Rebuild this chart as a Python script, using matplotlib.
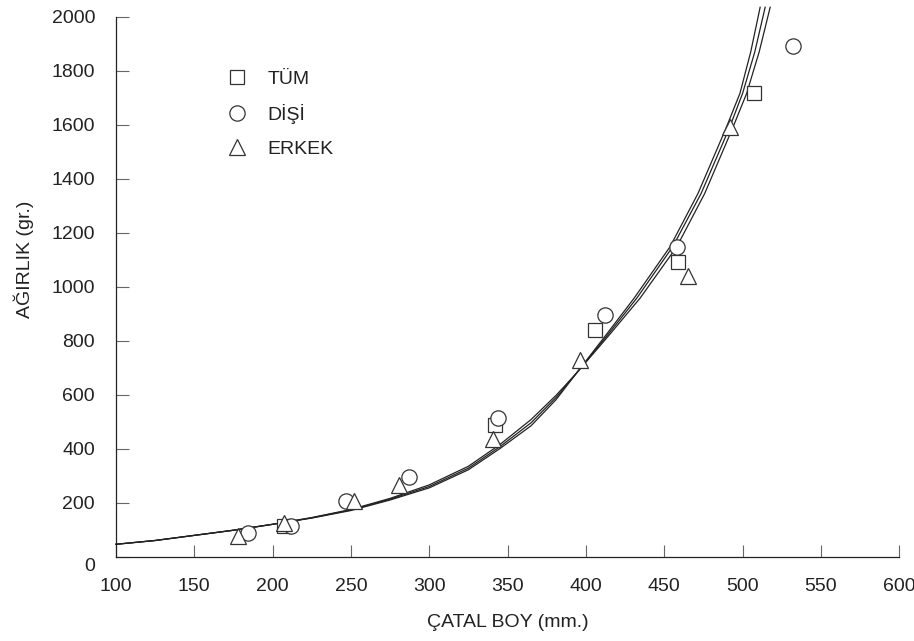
import matplotlib
matplotlib.use("Agg")
import matplotlib.pyplot as plt
from matplotlib.transforms import ScaledTranslation

plt.rcParams['font.family'] = ['Liberation Sans', 'DejaVu Sans']

# observed means (length mm, weight g)
tum_x = [207, 342, 406, 459, 507]
tum_y = [113, 488, 840, 1093, 1716]
disi_x = [184.5, 212, 247, 287, 344, 412, 458, 532]
disi_y = [86, 113, 205, 294, 512, 895, 1148, 1893]
erkek_x = [178, 207, 252, 281, 341, 396, 465, 492]
erkek_y = [76, 124, 205, 266, 436, 729, 1040, 1590]

# fitted curves
fit_a_x = [100, 125, 150, 175, 200, 225, 250, 275, 300, 325, 345, 365, 381, 394, 412, 430.7, 453.7, 471.5, 489.4, 498.3, 505.2, 511.2]
fit_a_y = [46, 60, 79, 98, 120, 145, 175, 216, 266, 335, 415, 508, 598, 680, 815, 957, 1148, 1345, 1587, 1716, 1870, 2035]
fit_b_x = [100, 125, 150, 175, 200, 225, 250, 275, 300, 325, 345, 365, 381, 394, 413, 432.4, 455.4, 473.5, 491.5, 500.0, 507.8, 514.4]
fit_b_y = [46, 60, 79, 98, 120, 144, 173, 213, 260, 328, 407, 496, 590, 680, 815, 957, 1148, 1345, 1587, 1716, 1870, 2035]
fit_c_x = [100, 125, 150, 175, 200, 225, 250, 275, 300, 325, 345, 365, 381, 394, 414, 434.5, 458.0, 475.8, 493.6, 502.6, 510.6, 517.6]
fit_c_y = [46, 60, 79, 98, 120, 143, 171, 210, 255, 322, 400, 485, 582, 680, 815, 957, 1148, 1345, 1587, 1716, 1870, 2035]

x_ticks = [100, 150, 200, 250, 300, 350, 400, 450, 500, 550, 600]
y_ticks = [0, 200, 400, 600, 800, 1000, 1200, 1400, 1600, 1800, 2000]

fig = plt.figure(figsize=(9.14, 6.41), dpi=100)
ax = fig.add_axes([0.1268, 0.1315, 0.8571, 0.8425])

for fx, fy in [(fit_a_x, fit_a_y), (fit_b_x, fit_b_y), (fit_c_x, fit_c_y)]:
    ax.plot(fx, fy, color="#222222", linewidth=0.9, clip_on=False, zorder=2)

mk = dict(linestyle="none", markerfacecolor="white", markeredgecolor="#333333",
          markeredgewidth=0.9, zorder=3)
ax.plot(tum_x, tum_y, marker="s", markersize=9.5, label="TÜM", **mk)
ax.plot(disi_x, disi_y, marker="o", markersize=11, label="DİŞİ", **mk)
ax.plot(erkek_x, erkek_y, marker="^", markersize=11, label="ERKEK", **mk)

ax.set_xlim(100, 600)
ax.set_ylim(0, 2000)
ax.set_xticks(x_ticks)
ax.set_yticks(y_ticks)
ax.tick_params(direction="in", length=9, width=0.8, color="#666666",
               labelsize=14, labelcolor="#222222", pad=15)
for spine in ["top", "right"]:
    ax.spines[spine].set_visible(False)
for spine in ["left", "bottom"]:
    ax.spines[spine].set_linewidth(0.9)
    ax.spines[spine].set_color("#222222")

# the "0" label sits a little below the axis in the original
fig.canvas.draw()
lbl0 = ax.get_yticklabels()[0]
lbl0.set_transform(lbl0.get_transform() + ScaledTranslation(0, -0.08, fig.dpi_scale_trans))

ax.set_xlabel("ÇATAL BOY (mm.)", fontsize=14, color="#222222", labelpad=14)
ax.set_ylabel("AĞIRLIK (gr.)", fontsize=14, color="#222222")
ax.yaxis.set_label_coords(-0.105, 0.55)

ax.legend(loc="upper left", bbox_to_anchor=(0.13, 0.918), frameon=False, fontsize=14,
          handletextpad=1.05, labelspacing=0.82, handlelength=1.0, borderpad=0,
          labelcolor="#222222")

fig.savefig("out.png", dpi=100)
